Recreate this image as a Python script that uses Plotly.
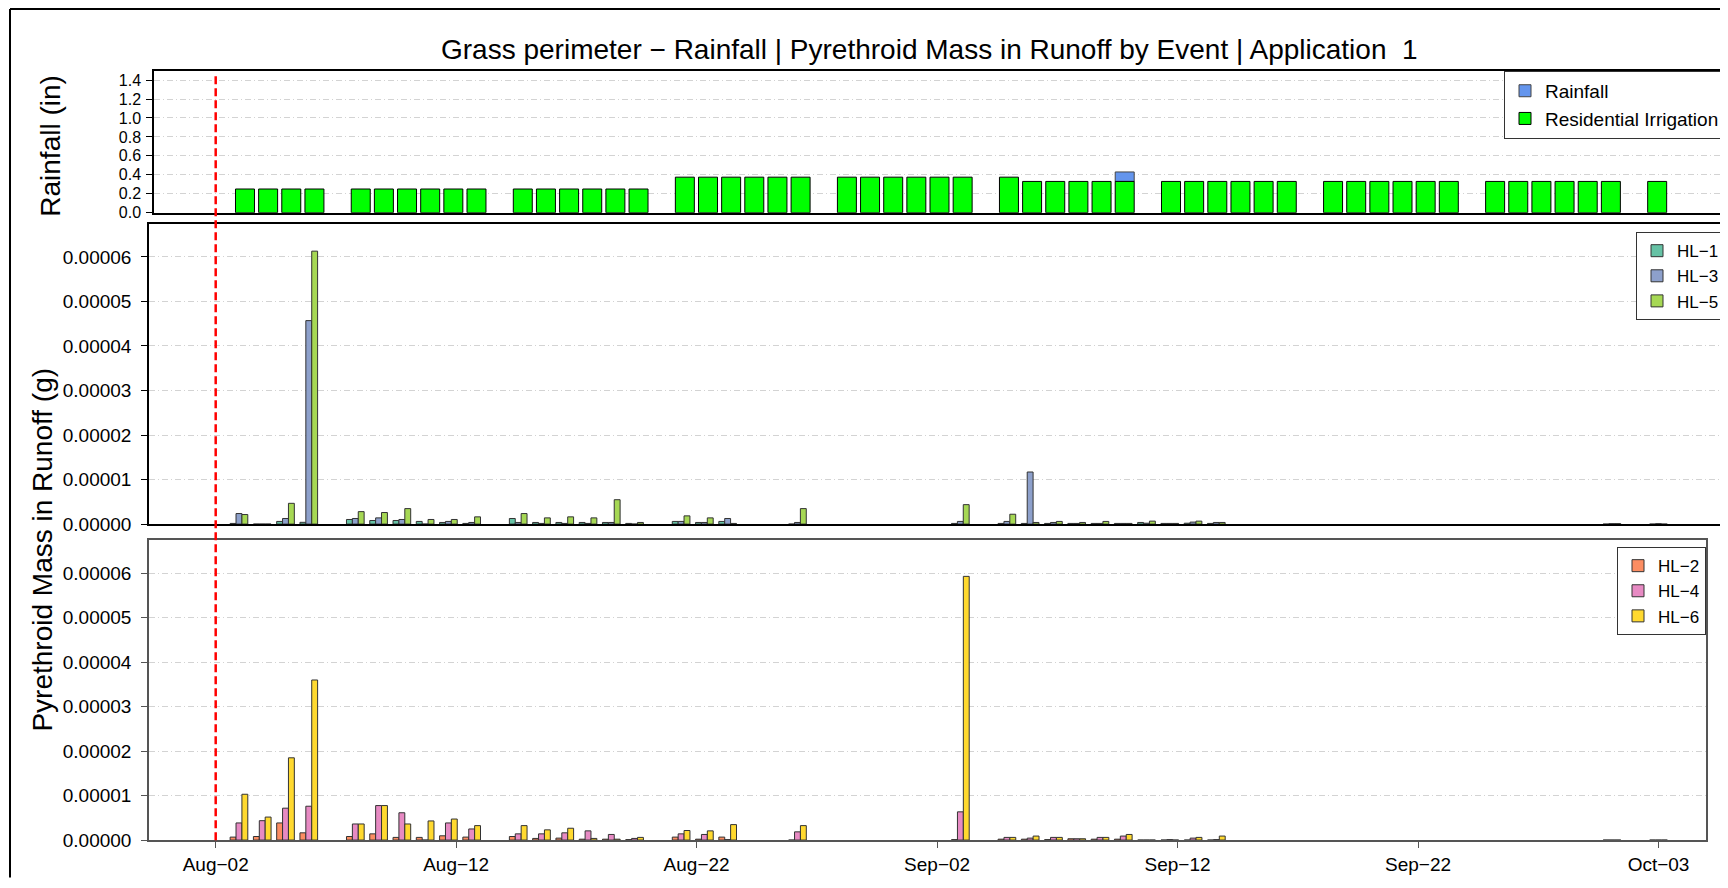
import plotly.graph_objects as go
import pandas as pd
from datetime import datetime, timedelta

# ---------------- data ----------------
irr_dates = [
    "2023-08-03", "2023-08-04", "2023-08-05", "2023-08-06",
    "2023-08-08", "2023-08-09", "2023-08-10", "2023-08-11", "2023-08-12", "2023-08-13",
    "2023-08-15", "2023-08-16", "2023-08-17", "2023-08-18", "2023-08-19", "2023-08-20",
    "2023-08-22", "2023-08-23", "2023-08-24", "2023-08-25", "2023-08-26", "2023-08-27",
    "2023-08-29", "2023-08-30", "2023-08-31", "2023-09-01", "2023-09-02", "2023-09-03",
    "2023-09-05", "2023-09-06", "2023-09-07", "2023-09-08", "2023-09-09", "2023-09-10",
    "2023-09-12", "2023-09-13", "2023-09-14", "2023-09-15", "2023-09-16", "2023-09-17",
    "2023-09-19", "2023-09-20", "2023-09-21", "2023-09-22", "2023-09-23", "2023-09-24",
    "2023-09-26", "2023-09-27", "2023-09-28", "2023-09-29", "2023-09-30", "2023-10-01",
    "2023-10-03",
]
irr_values = [
    0.25, 0.25, 0.25, 0.25,
    0.25, 0.25, 0.25, 0.25, 0.25, 0.25,
    0.25, 0.25, 0.25, 0.25, 0.25, 0.25,
    0.375, 0.375, 0.375, 0.375, 0.375, 0.375,
    0.375, 0.375, 0.375, 0.375, 0.375, 0.375,
    0.375, 0.33, 0.33, 0.33, 0.33, 0.33,
    0.33, 0.33, 0.33, 0.33, 0.33, 0.33,
    0.33, 0.33, 0.33, 0.33, 0.33, 0.33,
    0.33, 0.33, 0.33, 0.33, 0.33, 0.33,
    0.33,
]
rain_dates = ["2023-09-10"]
rain_values = [0.10]

runoff_dates = [
    "2023-08-03", "2023-08-04", "2023-08-05", "2023-08-06", "2023-08-08", "2023-08-09",
    "2023-08-10", "2023-08-11", "2023-08-12", "2023-08-13", "2023-08-15", "2023-08-16",
    "2023-08-17", "2023-08-18", "2023-08-19", "2023-08-20", "2023-08-22", "2023-08-23",
    "2023-08-24", "2023-08-27", "2023-09-03", "2023-09-05", "2023-09-06", "2023-09-07",
    "2023-09-08", "2023-09-09", "2023-09-10", "2023-09-11", "2023-09-12", "2023-09-13",
    "2023-09-14", "2023-10-01", "2023-10-03",
]
hl1 = [1.5e-07, 0.0, 6.0e-07, 4.0e-07, 1.04e-06, 8.1e-07,
       8.1e-07, 6.0e-07, 3.7e-07, 1.5e-07, 1.26e-06, 3.7e-07,
       3.7e-07, 3.7e-07, 3.7e-07, 1.5e-07, 6.0e-07, 3.7e-07,
       6.0e-07, 0.0, 1.5e-07, 1.5e-07, 1.5e-07, 1.5e-07,
       1.5e-07, 1.5e-07, 1.5e-07, 3.7e-07, 1.5e-07, 2.0e-07,
       1.5e-07, 0.0, 0.0]
hl3 = [2.37e-06, 0.0, 1.26e-06, 4.57e-05, 1.26e-06, 1.40e-06,
       1.04e-06, 0.0, 6.0e-07, 3.7e-07, 3.7e-07, 1.5e-07,
       1.5e-07, 1.5e-07, 3.7e-07, 0.0, 6.0e-07, 3.7e-07,
       1.26e-06, 3.7e-07, 6.0e-07, 6.0e-07, 1.17e-05, 3.7e-07,
       1.5e-07, 1.5e-07, 1.5e-07, 2.0e-07, 1.5e-07, 4.5e-07,
       3.7e-07, 1.0e-07, 1.0e-07]
hl5 = [2.15e-06, 0.0, 4.67e-06, 6.13e-05, 2.80e-06, 2.60e-06,
       3.48e-06, 1.04e-06, 1.04e-06, 1.63e-06, 2.37e-06, 1.40e-06,
       1.63e-06, 1.40e-06, 5.48e-06, 3.7e-07, 1.85e-06, 1.40e-06,
       1.5e-07, 3.48e-06, 4.37e-06, 2.22e-06, 3.7e-07, 6.0e-07,
       3.7e-07, 6.0e-07, 1.5e-07, 6.7e-07, 1.5e-07, 6.7e-07,
       3.7e-07, 1.0e-07, 0.0]
hl2 = [6.7e-07, 8.0e-07, 3.85e-06, 1.63e-06, 8.0e-07, 1.40e-06,
       6.0e-07, 6.0e-07, 9.6e-07, 6.7e-07, 8.0e-07, 3.7e-07,
       4.4e-07, 2.0e-07, 2.0e-07, 1.0e-07, 6.7e-07, 2.0e-07,
       6.7e-07, 0.0, 1.0e-07, 2.0e-07, 2.0e-07, 1.0e-07,
       3.0e-07, 2.0e-07, 2.0e-07, 0.0, 0.0, 0.0,
       0.0, 0.0, 0.0]
hl4 = [3.85e-06, 4.36e-06, 7.17e-06, 7.61e-06, 3.62e-06, 7.76e-06,
       6.14e-06, 0.0, 3.85e-06, 2.50e-06, 1.40e-06, 1.40e-06,
       1.63e-06, 2.07e-06, 1.26e-06, 3.7e-07, 1.40e-06, 1.26e-06,
       1.0e-07, 1.85e-06, 6.35e-06, 6.0e-07, 4.4e-07, 6.0e-07,
       3.0e-07, 6.0e-07, 9.0e-07, 0.0, 1.0e-07, 4.4e-07,
       1.0e-07, 0.0, 0.0]
hl6 = [1.03e-05, 5.17e-06, 1.85e-05, 3.60e-05, 3.62e-06, 7.76e-06,
       3.62e-06, 4.30e-06, 4.73e-06, 3.25e-06, 3.25e-06, 2.30e-06,
       2.66e-06, 3.7e-07, 2.0e-07, 6.0e-07, 2.15e-06, 2.07e-06,
       3.48e-06, 3.25e-06, 5.93e-05, 6.0e-07, 9.0e-07, 6.0e-07,
       3.0e-07, 6.0e-07, 1.26e-06, 0.0, 0.0, 6.0e-07,
       9.0e-07, 0.0, 0.0]

tick_labels = ["Aug\u221202", "Aug\u221212", "Aug\u221222", "Sep\u221202",
               "Sep\u221212", "Sep\u221222", "Oct\u221203"]
application_date = "2023-08-02"
last_date = "2023-10-03"

# ---------------- layout helpers ----------------
# the page body has an 8px margin: the figure is sized so that it fills the
# window from (8, 8); page pixel p maps to figure pixel p - 8
OFF = 8
W, H = 1720, 872
FONT = "Liberation Sans, Arial, sans-serif"
DAY = 86400000


def px(p):
    return (p - OFF) / W


def py(p):
    return 1 - (p - OFF) / H


app = datetime(2023, 8, 2)

fig = go.Figure()

# ---- top panel: rainfall / irrigation ----
irr_lookup = dict(zip(irr_dates, irr_values))
fig.add_trace(go.Bar(
    x=rain_dates, y=rain_values, base=[irr_lookup.get(d, 0) for d in rain_dates],
    name="Rainfall", width=0.82 * DAY, offset=-0.41 * DAY,
    marker=dict(color="#6495ED", line=dict(color="#444444", width=1)),
    xaxis="x", yaxis="y", legend="legend",
))
fig.add_trace(go.Bar(
    x=irr_dates, y=irr_values, name="Residential Irrigation",
    width=0.82 * DAY, offset=-0.41 * DAY,
    marker=dict(color="#00FF00", line=dict(color="black", width=1)),
    xaxis="x", yaxis="y", legend="legend",
))

# ---- middle / bottom panels ----
bw = 0.253
series_mid = [("HL\u22121", hl1, "#66C2A5"), ("HL\u22123", hl3, "#8DA0CB"), ("HL\u22125", hl5, "#A6D854")]
series_bot = [("HL\u22122", hl2, "#FC8D62"), ("HL\u22124", hl4, "#E78AC3"), ("HL\u22126", hl6, "#FFD92F")]
for i, (nm, vals, col) in enumerate(series_mid):
    fig.add_trace(go.Bar(
        x=runoff_dates, y=vals, name=nm, width=bw * DAY, offset=(-1.5 + i) * bw * DAY,
        marker=dict(color=col, line=dict(color="#333333", width=1)),
        xaxis="x2", yaxis="y2", legend="legend2",
    ))
for i, (nm, vals, col) in enumerate(series_bot):
    fig.add_trace(go.Bar(
        x=runoff_dates, y=vals, name=nm, width=bw * DAY, offset=(-1.5 + i) * bw * DAY,
        marker=dict(color=col, line=dict(color="#333333", width=1)),
        xaxis="x3", yaxis="y3", legend="legend3",
    ))

grid = dict(showgrid=True, gridcolor="#D3D3D3", gridwidth=1, griddash="6px,3px,1px,3px")
tickfont = dict(family=FONT, size=19, color="black")

xcommon = dict(type="date", showgrid=False, zeroline=False, showline=True, mirror=True,
               linecolor="black", linewidth=1.5)
top_x0 = datetime(2023, 8, 3)
tickvals = pd.date_range(application_date, last_date, periods=7)

fig.update_layout(
    width=W, height=H,
    margin=dict(l=0, r=0, t=0, b=0),
    paper_bgcolor="white", plot_bgcolor="white",
    barmode="overlay",
    font=dict(family=FONT, color="black"),
    xaxis=dict(**xcommon, domain=[px(154), px(1725)], anchor="y",
               range=[top_x0 - timedelta(days=3.93), top_x0 + timedelta(days=63.93)],
               showticklabels=False, ticks=""),
    yaxis=dict(domain=[py(215.3), py(71.7)], anchor="x", range=[0, 1.497],
               tick0=0, dtick=0.2, tickformat=".1f", ticks="outside", ticklen=6,
               tickcolor="black", tickfont=dict(family=FONT, size=16, color="black"),
               showline=True, mirror=True, linecolor="black", linewidth=1.5,
               zeroline=False, ticklabelstandoff=2, **grid),
    xaxis2=dict(**xcommon, domain=[px(149), px(1725)], anchor="y2",
                range=[app - timedelta(days=2.866), app + timedelta(days=64.86)],
                showticklabels=False, ticks=""),
    yaxis2=dict(domain=[py(530.7), py(226.3)], anchor="x2", range=[0, 6.75e-5],
                tick0=0, dtick=1e-5, tickformat=".5f", ticks="outside", ticklen=6,
                tickcolor="black", tickfont=tickfont,
                showline=True, mirror=True, linecolor="black", linewidth=1.5,
                zeroline=False, ticklabelstandoff=6, **grid),
    xaxis3=dict(type="date", showgrid=False, zeroline=False, showline=True, mirror=True,
                linecolor="#555555", linewidth=1.5,
                domain=[px(149), px(1706)], anchor="y3",
                range=[app - timedelta(days=2.866), app + timedelta(days=64.04)],
                tickvals=tickvals, ticktext=tick_labels, ticks="outside", ticklen=6,
                tickcolor="#555555", tickfont=tickfont),
    yaxis3=dict(domain=[py(850.7), py(546.7)], anchor="x3", range=[0, 6.75e-5],
                tick0=0, dtick=1e-5, tickformat=".5f", ticks="outside", ticklen=6,
                tickcolor="#555555", tickfont=tickfont,
                showline=True, mirror=True, linecolor="#555555", linewidth=1.5,
                zeroline=False, ticklabelstandoff=6, **grid),
    legend=dict(x=px(1725), y=py(71.7), xanchor="right", yanchor="top",
                bordercolor="#333333", borderwidth=1, bgcolor="white",
                font=dict(family=FONT, size=19, color="black")),
    legend2=dict(x=px(1725), y=py(235), xanchor="right", yanchor="top",
                 bordercolor="#333333", borderwidth=1, bgcolor="white",
                 font=dict(family=FONT, size=17, color="black")),
    legend3=dict(x=px(1706), y=py(554), xanchor="right", yanchor="top",
                 bordercolor="#333333", borderwidth=1, bgcolor="white",
                 font=dict(family=FONT, size=17, color="black")),
    showlegend=True,
)

# title and axis titles
fig.add_annotation(text="Grass perimeter \u2212 Rainfall | Pyrethroid Mass in Runoff by Event | Application  1",
                   x=px(929.5), y=py(49.6), xref="paper", yref="paper", showarrow=False,
                   xanchor="center", yanchor="middle", font=dict(family=FONT, size=28, color="black"))
fig.add_annotation(text="Rainfall (in)", x=px(50.5), y=py(148), xref="paper", yref="paper",
                   showarrow=False, textangle=-90, xanchor="center", yanchor="middle",
                   font=dict(family=FONT, size=28, color="black"))
fig.add_annotation(text="Pyrethroid Mass in Runoff (g)", x=px(43), y=py(556.5), xref="paper", yref="paper",
                   showarrow=False, textangle=-90, xanchor="center", yanchor="middle",
                   font=dict(family=FONT, size=28, color="black"))

# application date marker
fig.add_shape(type="line", xref="x3", yref="paper", x0=application_date, x1=application_date,
              y0=py(851), y1=py(76), line=dict(color="red", width=2.5, dash="8px,4px"))
# outer frame
fig.add_shape(type="line", xref="paper", yref="paper", x0=px(10), x1=1.01, y0=py(9), y1=py(9),
              line=dict(color="black", width=2))
fig.add_shape(type="line", xref="paper", yref="paper", x0=px(10), x1=px(10), y0=py(9), y1=-0.01,
              line=dict(color="black", width=2))

fig.write_html("out.html")
